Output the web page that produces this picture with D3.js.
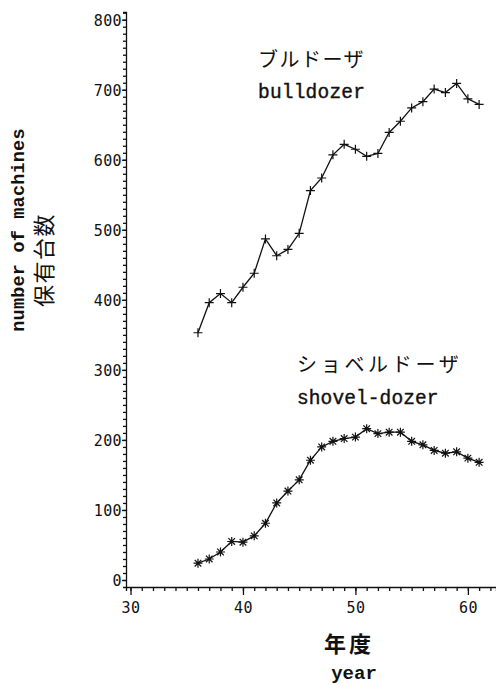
<!DOCTYPE html>
<html>
<head>
<meta charset="utf-8">
<script src="https://cdn.jsdelivr.net/npm/d3@7"></script>
<style>
  body { margin: 0; background: #fff; }
  text { fill: #111; }
</style>
</head>
<body>
<svg id="chart"></svg>
<script>
const width = 496;
const height = 684;

// data
const years = [36, 37, 38, 39, 40, 41, 42, 43, 44, 45, 46, 47, 48, 49, 50, 51, 52, 53, 54, 55, 56, 57, 58, 59, 60, 61];
const bulldozer = [353, 396, 409, 396, 418, 438, 487, 463, 472, 495, 556, 574, 607, 622, 615, 605, 609, 639, 655, 674, 683, 701, 696, 709, 687, 679];
const shovelDozer = [24, 30, 40, 55, 54, 63, 81, 110, 127, 143, 171, 190, 198, 202, 204, 216, 209, 211, 211, 198, 193, 185, 181, 183, 174, 168];
const yTicks = [0, 100, 200, 300, 400, 500, 600, 700, 800];
const xTicks = [30, 40, 50, 60];

const svg = d3.select("#chart").attr("width", width).attr("height", height);

const x = d3.scaleLinear().domain([29.6, 62.5]).range([126, 496]);
const y = d3.scaleLinear().domain([-10, 811]).range([587, 12]);

const monoFont = "'Liberation Mono', 'DejaVu Sans Mono', monospace";
const tickFont = "'DejaVu Sans Mono', monospace";
const jpFont = "'Noto Sans CJK JP', sans-serif";

// y axis, minor ticks every 10
svg.append("g")
  .attr("transform", `translate(${x(29.6)},0)`)
  .call(d3.axisLeft(y).tickValues(d3.range(0, 811, 10)).tickSize(3).tickFormat(""))
  .call(g => g.selectAll("line, path").attr("stroke", "#111").attr("stroke-width", 1.3));

svg.append("g")
  .attr("transform", `translate(${x(29.6)},0)`)
  .call(d3.axisLeft(y).tickValues(yTicks).tickSize(4).tickPadding(0))
  .call(g => g.select(".domain").remove())
  .call(g => g.selectAll("line").attr("stroke", "#111").attr("stroke-width", 1.3))
  .call(g => g.selectAll("text")
    .attr("font-family", tickFont)
    .attr("font-size", 15)
    .attr("letter-spacing", 0.4)
    .attr("dy", "0.36em"));

// x axis, minor ticks every year
svg.append("g")
  .attr("transform", `translate(0,${y(-10)})`)
  .call(d3.axisBottom(x).tickValues(d3.range(30, 63, 1)).tickSize(4).tickFormat(""))
  .call(g => g.selectAll("line, path").attr("stroke", "#111").attr("stroke-width", 1.3));

svg.append("g")
  .attr("transform", `translate(0,${y(-10)})`)
  .call(d3.axisBottom(x).tickValues(xTicks).tickSize(8).tickPadding(7))
  .call(g => g.select(".domain").remove())
  .call(g => g.selectAll("line").attr("stroke", "#111").attr("stroke-width", 1.3))
  .call(g => g.selectAll("text")
    .attr("font-family", tickFont)
    .attr("font-size", 15)
    .attr("letter-spacing", 0.4));

const line = d3.line()
  .x((d, i) => x(years[i]))
  .y(d => y(d));

const plusPath = "M-4.5,0H4.5M0,-4.5V4.5";
const starPath = "M-4.5,0H4.5M0,-4.5V4.5M-3.3,-3.3L3.3,3.3M-3.3,3.3L3.3,-3.3";

function drawSeries(values, marker) {
  svg.append("path")
    .datum(values)
    .attr("d", line)
    .attr("fill", "none")
    .attr("stroke", "#111")
    .attr("stroke-width", 1.3);

  svg.append("g")
    .selectAll("path")
    .data(values)
    .enter()
    .append("path")
    .attr("transform", (d, i) => `translate(${x(years[i])},${y(d)})`)
    .attr("d", marker)
    .attr("stroke", "#111")
    .attr("stroke-width", 1.2)
    .attr("fill", "none");
}

drawSeries(bulldozer, plusPath);
drawSeries(shovelDozer, starPath);

// series labels
svg.append("text").attr("x", 258).attr("y", 67)
  .attr("font-family", jpFont).attr("font-size", 20).attr("letter-spacing", 1.5)
  .text("ブルドーザ");
svg.append("text").attr("x", 258).attr("y", 98)
  .attr("font-family", monoFont).attr("font-size", 19.5).attr("letter-spacing", 0.2)
  .attr("stroke", "#111").attr("stroke-width", 0.4)
  .text("bulldozer");

svg.append("text").attr("x", 297).attr("y", 372)
  .attr("font-family", jpFont).attr("font-size", 20).attr("letter-spacing", 3.7)
  .text("ショベルドーザ");
svg.append("text").attr("x", 297).attr("y", 404)
  .attr("font-family", monoFont).attr("font-size", 19.5).attr("letter-spacing", 0.1)
  .attr("stroke", "#111").attr("stroke-width", 0.4)
  .text("shovel-dozer");

// axis titles
svg.append("text")
  .attr("transform", "translate(24,230) rotate(-90)")
  .attr("text-anchor", "middle")
  .attr("font-family", monoFont).attr("font-size", 18.5).attr("font-weight", "bold")
  .attr("letter-spacing", 0.2)
  .text("number of machines");
svg.append("text")
  .attr("transform", "translate(52,260) rotate(-90)")
  .attr("text-anchor", "middle")
  .attr("font-family", jpFont).attr("font-size", 22).attr("letter-spacing", 1.5)
  .text("保有台数");

svg.append("text").attr("x", 349).attr("y", 652)
  .attr("text-anchor", "middle")
  .attr("font-family", jpFont).attr("font-size", 22).attr("font-weight", "bold")
  .attr("letter-spacing", 3)
  .text("年度");
svg.append("text").attr("x", 354).attr("y", 679)
  .attr("text-anchor", "middle")
  .attr("font-family", monoFont).attr("font-size", 19).attr("font-weight", "bold")
  .text("year");
</script>
</body>
</html>
